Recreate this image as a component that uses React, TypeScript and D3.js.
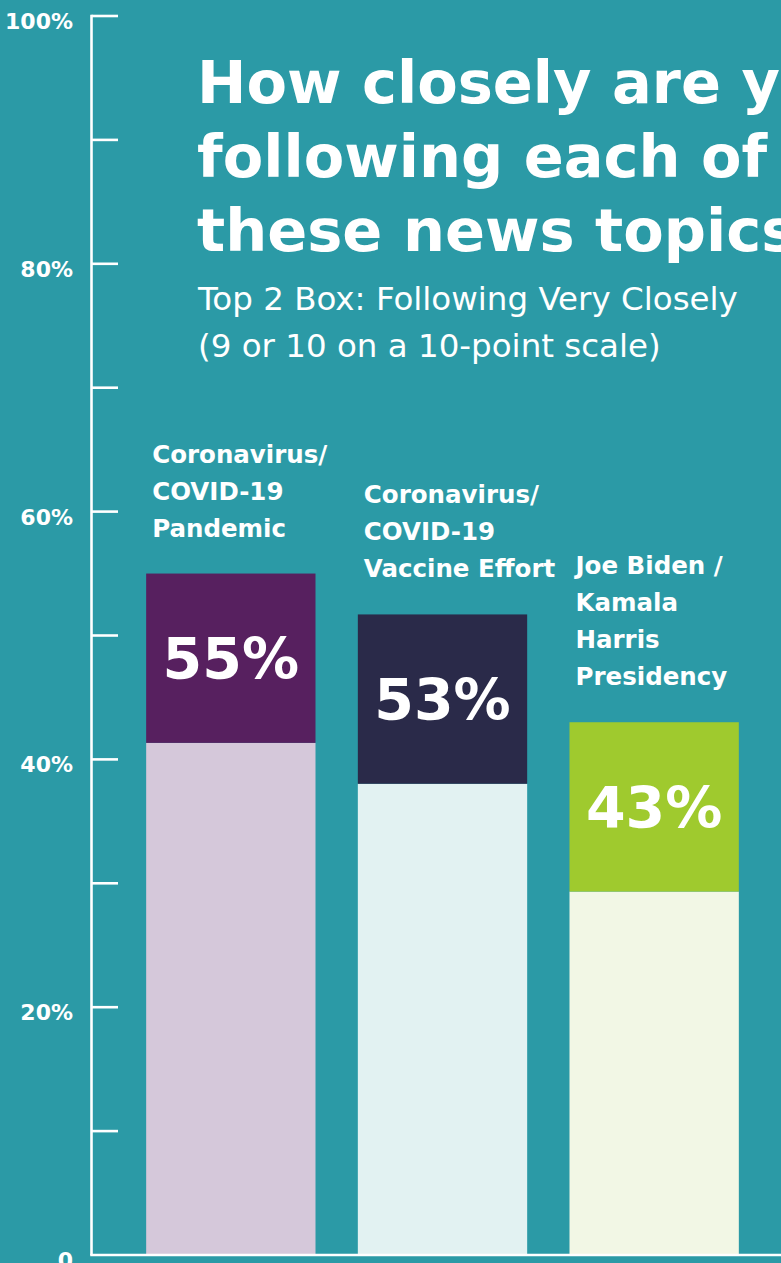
import { scaleBand, scaleLinear } from "d3";

const topics = ["pandemic", "vaccine", "presidency"];
const topicLabels = [
  ["Coronavirus/", "COVID-19", "Pandemic"],
  ["Coronavirus/", "COVID-19", "Vaccine Effort"],
  ["Joe Biden /", "Kamala", "Harris", "Presidency"],
];
// printed share in each block
const shownPct = [55, 53, 43];
// bar height as drawn in the graphic (the middle bar is drawn a bit short)
const drawnPct = [55, 51.7, 43];
const darkColors = ["#57205F", "#2A2A49", "#9FCA2E"];
const lightColors = ["#D5C8DA", "#E2F2F2", "#F2F7E5"];
const yTicks = [0, 10, 20, 30, 40, 50, 60, 70, 80, 90, 100];
const yLabels = ["0", "", "20%", "", "40%", "", "60%", "", "80%", "", "100%"];
const titleLines = ["How closely are you", "following each of", "these news topics?"];
const subtitleLines = ["Top 2 Box: Following Very Closely", "(9 or 10 on a 10-point scale)"];

const width = 781;
const height = 1263;
const axisX = 91.5;
const font = "'DejaVu Sans', sans-serif";

export default function App() {
  const y = scaleLinear([0, 100], [1255, 16]);
  const x = scaleBand(topics, [125, 760]).paddingInner(0.2).paddingOuter(0.1);
  const bw = x.bandwidth();

  return (
    <svg
      width={width}
      height={height}
      style={{ position: "absolute", left: 0, top: 0, display: "block" }}
      fontFamily={font}
    >
      <rect width={width} height={height} fill="#2B9AA6" />

      {/* title block */}
      <g fill="#fff" fontWeight="bold" fontSize={59}>
        {titleLines.map((t, i) => (
          <text key={t} x={197} y={103 + i * 74}>
            {t}
          </text>
        ))}
      </g>
      <g fill="#fff" fontSize={32.5}>
        {subtitleLines.map((t, i) => (
          <text key={t} x={198} y={310 + i * 47}>
            {t}
          </text>
        ))}
      </g>

      {/* bars */}
      {topics.map((k, i) => {
        const bx = x(k)!;
        const top = y(drawnPct[i]);
        const lines = topicLabels[i];
        return (
          <g key={k}>
            <rect x={bx} y={top + bw} width={bw} height={y(0) - top - bw} fill={lightColors[i]} />
            <rect x={bx} y={top} width={bw} height={bw} fill={darkColors[i]} />
            <text
              x={bx + bw / 2}
              y={top + bw / 2 + 21}
              textAnchor="middle"
              fill="#fff"
              fontWeight="bold"
              fontSize={57}
            >
              {shownPct[i]}%
            </text>
            {lines.map((l, j) => (
              <text
                key={j}
                x={bx + 6}
                y={top - 37 - (lines.length - 1 - j) * 37}
                fill="#fff"
                fontWeight="bold"
                fontSize={24.5}
              >
                {l}
              </text>
            ))}
          </g>
        );
      })}

      {/* axis */}
      <g stroke="#fff" strokeWidth={2.6}>
        <line x1={axisX} x2={axisX} y1={y(100) - 1.3} y2={y(0)} />
        <line x1={axisX - 1.3} x2={width} y1={y(0)} y2={y(0)} />
        {yTicks.slice(1).map((t) => (
          <line key={t} x1={axisX} x2={118} y1={y(t)} y2={y(t)} />
        ))}
      </g>
      <g fill="#fff" fontWeight="bold" fontSize={22} textAnchor="end">
        {yTicks.map((t, i) => (
          <text key={t} x={73} y={y(t) + 13}>
            {yLabels[i]}
          </text>
        ))}
      </g>
    </svg>
  );
}
